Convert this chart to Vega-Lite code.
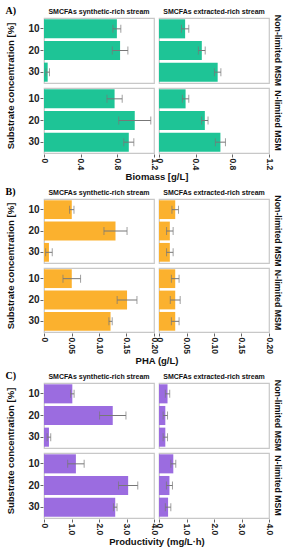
{
  "$schema": "https://vega.github.io/schema/vega-lite/v6.json",
  "padding": {"left": 5, "right": 2, "top": 6, "bottom": 2},
  "datasets": {
    "d": [
      {"panel": "A", "stream": "synthetic", "medium": "Non-limited MSM", "conc": "10", "value": 0.795, "err": 0.043},
      {"panel": "A", "stream": "synthetic", "medium": "Non-limited MSM", "conc": "20", "value": 0.83, "err": 0.085},
      {"panel": "A", "stream": "synthetic", "medium": "Non-limited MSM", "conc": "30", "value": 0.04, "err": 0.02},
      {"panel": "A", "stream": "synthetic", "medium": "N-limited MSM", "conc": "10", "value": 0.77, "err": 0.083},
      {"panel": "A", "stream": "synthetic", "medium": "N-limited MSM", "conc": "20", "value": 0.99, "err": 0.175},
      {"panel": "A", "stream": "synthetic", "medium": "N-limited MSM", "conc": "30", "value": 0.925, "err": 0.055},
      {"panel": "A", "stream": "extracted", "medium": "Non-limited MSM", "conc": "10", "value": 0.285, "err": 0.04},
      {"panel": "A", "stream": "extracted", "medium": "Non-limited MSM", "conc": "20", "value": 0.467, "err": 0.037},
      {"panel": "A", "stream": "extracted", "medium": "Non-limited MSM", "conc": "30", "value": 0.64, "err": 0.035},
      {"panel": "A", "stream": "extracted", "medium": "N-limited MSM", "conc": "10", "value": 0.29, "err": 0.035},
      {"panel": "A", "stream": "extracted", "medium": "N-limited MSM", "conc": "20", "value": 0.5, "err": 0.035},
      {"panel": "A", "stream": "extracted", "medium": "N-limited MSM", "conc": "30", "value": 0.67, "err": 0.055},
      {"panel": "B", "stream": "synthetic", "medium": "Non-limited MSM", "conc": "10", "value": 0.0505, "err": 0.004},
      {"panel": "B", "stream": "synthetic", "medium": "Non-limited MSM", "conc": "20", "value": 0.13, "err": 0.021},
      {"panel": "B", "stream": "synthetic", "medium": "Non-limited MSM", "conc": "30", "value": 0.009, "err": 0.006},
      {"panel": "B", "stream": "synthetic", "medium": "N-limited MSM", "conc": "10", "value": 0.0505, "err": 0.016},
      {"panel": "B", "stream": "synthetic", "medium": "N-limited MSM", "conc": "20", "value": 0.151, "err": 0.018},
      {"panel": "B", "stream": "synthetic", "medium": "N-limited MSM", "conc": "30", "value": 0.121, "err": 0.003},
      {"panel": "B", "stream": "extracted", "medium": "Non-limited MSM", "conc": "10", "value": 0.0295, "err": 0.006},
      {"panel": "B", "stream": "extracted", "medium": "Non-limited MSM", "conc": "20", "value": 0.0197, "err": 0.006},
      {"panel": "B", "stream": "extracted", "medium": "Non-limited MSM", "conc": "30", "value": 0.0197, "err": 0.006},
      {"panel": "B", "stream": "extracted", "medium": "N-limited MSM", "conc": "10", "value": 0.0295, "err": 0.007},
      {"panel": "B", "stream": "extracted", "medium": "N-limited MSM", "conc": "20", "value": 0.0295, "err": 0.009},
      {"panel": "B", "stream": "extracted", "medium": "N-limited MSM", "conc": "30", "value": 0.0295, "err": 0.007},
      {"panel": "C", "stream": "synthetic", "medium": "Non-limited MSM", "conc": "10", "value": 1.03, "err": 0.065},
      {"panel": "C", "stream": "synthetic", "medium": "Non-limited MSM", "conc": "20", "value": 2.5, "err": 0.48},
      {"panel": "C", "stream": "synthetic", "medium": "Non-limited MSM", "conc": "30", "value": 0.18, "err": 0.065},
      {"panel": "C", "stream": "synthetic", "medium": "N-limited MSM", "conc": "10", "value": 1.16, "err": 0.3},
      {"panel": "C", "stream": "synthetic", "medium": "N-limited MSM", "conc": "20", "value": 3.06, "err": 0.35},
      {"panel": "C", "stream": "synthetic", "medium": "N-limited MSM", "conc": "30", "value": 2.59, "err": 0.065},
      {"panel": "C", "stream": "extracted", "medium": "Non-limited MSM", "conc": "10", "value": 0.31, "err": 0.08},
      {"panel": "C", "stream": "extracted", "medium": "Non-limited MSM", "conc": "20", "value": 0.23, "err": 0.08},
      {"panel": "C", "stream": "extracted", "medium": "Non-limited MSM", "conc": "30", "value": 0.23, "err": 0.08},
      {"panel": "C", "stream": "extracted", "medium": "N-limited MSM", "conc": "10", "value": 0.52, "err": 0.09},
      {"panel": "C", "stream": "extracted", "medium": "N-limited MSM", "conc": "20", "value": 0.38, "err": 0.11},
      {"panel": "C", "stream": "extracted", "medium": "N-limited MSM", "conc": "30", "value": 0.33, "err": 0.1}
    ]
  },
  "data": {"name": "d"},
  "spacing": 5,
  "vconcat": [
    {
      "title": {"text": "A)", "anchor": "start", "font": "Liberation Serif", "fontSize": 10, "fontWeight": "bold", "offset": -8},
      "transform": [{"filter": "datum.panel == 'A'"}],
      "facet": {
        "row": {"field": "medium", "sort": ["Non-limited MSM", "N-limited MSM"], "title": "Substrate concentration [%]"},
        "column": {"field": "stream", "sort": ["synthetic", "extracted"], "title": "Biomass [g/L]", "header": {"labelExpr": "'SMCFAs ' + datum.value + '-rich stream'"}}
      },
      "spec": {
        "width": 110, "height": 65,
        "layer": [
          {"mark": {"type": "bar", "color": "#1ec496"},
           "encoding": {
             "y": {"field": "conc", "type": "ordinal", "sort": ["10", "20", "30"], "title": null},
             "x": {"field": "value", "type": "quantitative", "title": null, "scale": {"domain": [0, 1.2], "nice": false}, "axis": {"values": [0, 0.4, 0.8, 1.2], "labelOverlap": false, "labelSeparation": 0, "labelExpr": "datum.value == 0 ? '0' : format(datum.value, '.1f')"}}
           }},
          {"mark": {"type": "errorbar", "ticks": {"size": 8}, "color": "#777777", "thickness": 1},
           "encoding": {
             "y": {"field": "conc", "type": "ordinal", "sort": ["10", "20", "30"], "title": null},
             "x": {"field": "value", "type": "quantitative", "title": null, "axis": {"values": [0, 0.4, 0.8, 1.2], "labelOverlap": false, "labelSeparation": 0, "labelExpr": "datum.value == 0 ? '0' : format(datum.value, '.1f')"}},
             "xError": {"field": "err"}
           }}
        ]
      }
    },
    {
      "title": {"text": "B)", "anchor": "start", "font": "Liberation Serif", "fontSize": 10, "fontWeight": "bold", "offset": -8},
      "transform": [{"filter": "datum.panel == 'B'"}],
      "facet": {
        "row": {"field": "medium", "sort": ["Non-limited MSM", "N-limited MSM"], "title": "Substrate concentration [%]"},
        "column": {"field": "stream", "sort": ["synthetic", "extracted"], "title": "PHA (g/L)", "header": {"labelExpr": "'SMCFAs ' + datum.value + '-rich stream'"}}
      },
      "spec": {
        "width": 110, "height": 64,
        "layer": [
          {"mark": {"type": "bar", "color": "#fbb12e"},
           "encoding": {
             "y": {"field": "conc", "type": "ordinal", "sort": ["10", "20", "30"], "title": null},
             "x": {"field": "value", "type": "quantitative", "title": null, "scale": {"domain": [0, 0.2], "nice": false}, "axis": {"values": [0, 0.05, 0.1, 0.15, 0.2], "labelOverlap": false, "labelSeparation": 0, "labelExpr": "datum.value == 0 ? '0' : format(datum.value, '.2f')"}}
           }},
          {"mark": {"type": "errorbar", "ticks": {"size": 8}, "color": "#777777", "thickness": 1},
           "encoding": {
             "y": {"field": "conc", "type": "ordinal", "sort": ["10", "20", "30"], "title": null},
             "x": {"field": "value", "type": "quantitative", "title": null, "axis": {"values": [0, 0.05, 0.1, 0.15, 0.2], "labelOverlap": false, "labelSeparation": 0, "labelExpr": "datum.value == 0 ? '0' : format(datum.value, '.2f')"}},
             "xError": {"field": "err"}
           }}
        ]
      }
    },
    {
      "title": {"text": "C)", "anchor": "start", "font": "Liberation Serif", "fontSize": 10, "fontWeight": "bold", "offset": -8},
      "transform": [{"filter": "datum.panel == 'C'"}],
      "facet": {
        "row": {"field": "medium", "sort": ["Non-limited MSM", "N-limited MSM"], "title": "Substrate concentration [%]"},
        "column": {"field": "stream", "sort": ["synthetic", "extracted"], "title": "Productivity (mg/L·h)", "header": {"labelExpr": "'SMCFAs ' + datum.value + '-rich stream'"}}
      },
      "spec": {
        "width": 110, "height": 65,
        "layer": [
          {"mark": {"type": "bar", "color": "#9b6ce0"},
           "encoding": {
             "y": {"field": "conc", "type": "ordinal", "sort": ["10", "20", "30"], "title": null},
             "x": {"field": "value", "type": "quantitative", "title": null, "scale": {"domain": [0, 4], "nice": false}, "axis": {"values": [0, 1, 2, 3, 4], "labelOverlap": false, "labelSeparation": 0, "labelExpr": "datum.value == 0 ? '0' : format(datum.value, '.1f')"}}
           }},
          {"mark": {"type": "errorbar", "ticks": {"size": 8}, "color": "#777777", "thickness": 1},
           "encoding": {
             "y": {"field": "conc", "type": "ordinal", "sort": ["10", "20", "30"], "title": null},
             "x": {"field": "value", "type": "quantitative", "title": null, "axis": {"values": [0, 1, 2, 3, 4], "labelOverlap": false, "labelSeparation": 0, "labelExpr": "datum.value == 0 ? '0' : format(datum.value, '.1f')"}},
             "xError": {"field": "err"}
           }}
        ]
      }
    }
  ],
  "config": {
    "font": "Liberation Sans",
    "view": {"stroke": "#c8c8c8", "strokeWidth": 1.2},
    "facet": {"spacing": 3},
    "scale": {"bandPaddingInner": 0.12, "bandPaddingOuter": 0.06},
    "axis": {"grid": false, "domain": false, "tickColor": "#666666", "tickSize": 3, "labelColor": "#222222", "labelFontWeight": "bold", "labelPadding": 1, "labelOverlap": false, "labelBound": false, "labelFlush": false},
    "axisQuantitative": {"labelOverlap": false},
    "axisX": {"labelAngle": 90, "labelFontSize": 8.5, "labelOverlap": false},
    "axisY": {"labelFontSize": 10},
    "header": {"labelFontSize": 7, "labelFontWeight": "bold", "labelColor": "#111111", "labelPadding": 2, "titleFontSize": 9.5, "titleFontWeight": "bold", "titleColor": "#111111"},
    "headerColumn": {"labelOrient": "top", "titleOrient": "bottom", "titlePadding": -8},
    "headerRow": {"labelAngle": 90, "labelOrient": "right", "labelFontSize": 8.8, "labelPadding": 3, "titleOrient": "left", "titlePadding": 2},
    "title": {"color": "#000000"}
  }
}
